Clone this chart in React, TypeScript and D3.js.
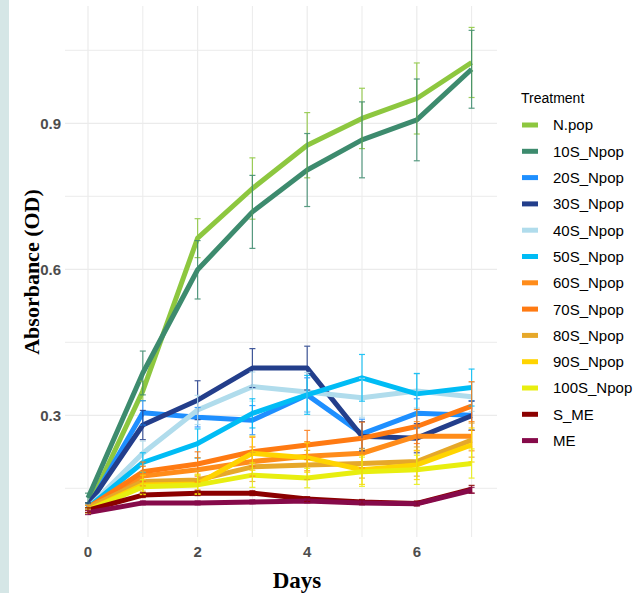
import { useEffect, useRef } from 'react';
import * as d3 from 'd3';

const days = [0, 1, 2, 3, 4, 5, 6, 7];
const xTicks = [0, 2, 4, 6];
const yTicks = [0.3, 0.6, 0.9];
const yGrid = [0.15, 0.3, 0.45, 0.6, 0.75, 0.9, 1.05];

const treatments = ['N.pop', '10S_Npop', '20S_Npop', '30S_Npop', '40S_Npop', '50S_Npop', '60S_Npop', '70S_Npop', '80S_Npop', '90S_Npop', '100S_Npop', 'S_ME', 'ME'];
const colors = ['#8dc73f', '#3d8b6e', '#1e8fff', '#233e8b', '#b0dcec', '#00bcf5', '#ff8c1a', '#ff7a12', '#e6a82a', '#ffd400', '#e8ee10', '#8b0000', '#860a4a'];

const npop = [0.11, 0.35, 0.664, 0.766, 0.855, 0.91, 0.951, 1.025];
const s10 = [0.13, 0.387, 0.599, 0.718, 0.804, 0.866, 0.907, 1.011];
const s20 = [0.11, 0.305, 0.296, 0.29, 0.342, 0.262, 0.304, 0.3];
const s30 = [0.115, 0.28, 0.331, 0.397, 0.397, 0.257, 0.253, 0.299];
const s40 = [0.11, 0.222, 0.311, 0.359, 0.348, 0.336, 0.35, 0.338];
const s50 = [0.11, 0.203, 0.242, 0.304, 0.342, 0.377, 0.344, 0.357];
const s60 = [0.11, 0.175, 0.188, 0.205, 0.216, 0.222, 0.257, 0.257];
const s70 = [0.11, 0.184, 0.2, 0.225, 0.239, 0.253, 0.277, 0.319];
const s80 = [0.11, 0.164, 0.167, 0.194, 0.198, 0.201, 0.205, 0.249];
const s90 = [0.105, 0.157, 0.159, 0.222, 0.213, 0.188, 0.198, 0.239];
const s100 = [0.105, 0.153, 0.157, 0.177, 0.171, 0.184, 0.188, 0.201];
const sme = [0.105, 0.136, 0.14, 0.14, 0.128, 0.122, 0.119, 0.148];
const me = [0.1, 0.12, 0.12, 0.122, 0.124, 0.12, 0.118, 0.146];

const seNpop = [0.01, 0.02, 0.04, 0.063, 0.067, 0.062, 0.073, 0.072];
const se10 = [0.01, 0.045, 0.06, 0.075, 0.075, 0.078, 0.084, 0.08];
const se20 = [0.005, 0.025, 0.02, 0.03, 0.035, 0.03, 0.03, 0.03];
const se30 = [0.005, 0.03, 0.04, 0.04, 0.045, 0.03, 0.03, 0.03];
const se40 = [0.005, 0.025, 0.03, 0.03, 0.04, 0.04, 0.035, 0.03];
const se50 = [0.005, 0.02, 0.03, 0.03, 0.04, 0.048, 0.042, 0.038];
const se60 = [0.005, 0.02, 0.025, 0.03, 0.03, 0.03, 0.03, 0.03];
const se70 = [0.005, 0.02, 0.025, 0.03, 0.03, 0.033, 0.035, 0.05];
const se80 = [0.005, 0.02, 0.02, 0.03, 0.03, 0.03, 0.03, 0.035];
const se90 = [0.005, 0.02, 0.02, 0.035, 0.03, 0.03, 0.03, 0.035];
const se100 = [0.005, 0.015, 0.02, 0.025, 0.02, 0.03, 0.03, 0.03];
const seSme = [0.005, 0.005, 0.005, 0.005, 0.005, 0.005, 0.005, 0.008];
const seMe = [0.004, 0.004, 0.004, 0.004, 0.004, 0.004, 0.004, 0.006];

const values = [npop, s10, s20, s30, s40, s50, s60, s70, s80, s90, s100, sme, me];
const errors = [seNpop, se10, se20, se30, se40, se50, se60, se70, se80, se90, se100, seSme, seMe];

const App = () => {
  const svgRef = useRef<SVGSVGElement>(null);

  useEffect(() => {
    if (!svgRef.current) return;
    const svg = d3.select(svgRef.current);
    svg.selectAll('*').remove();

    const panel = { left: 65, right: 497, top: 6, bottom: 537 };

    const x = d3.scaleLinear().domain([0, 7]).range([88, 471.6]);
    const y = d3.scaleLinear().domain([0, 1.05]).range([561.3, 50.3]);

    // left strip
    svg.append('rect').attr('x', 0).attr('y', 0).attr('width', 9).attr('height', 593).attr('fill', '#d5e6e6');

    const grid = svg.append('g');
    grid.selectAll('line.h')
      .data(yGrid)
      .enter()
      .append('line')
      .attr('x1', panel.left)
      .attr('x2', panel.right)
      .attr('y1', d => y(d))
      .attr('y2', d => y(d))
      .attr('stroke', '#ebebeb')
      .attr('stroke-width', d => (yTicks.includes(d) ? 1.2 : 1));
    grid.selectAll('line.v')
      .data(days)
      .enter()
      .append('line')
      .attr('x1', d => x(d))
      .attr('x2', d => x(d))
      .attr('y1', panel.top)
      .attr('y2', panel.bottom)
      .attr('stroke', '#ebebeb')
      .attr('stroke-width', d => (xTicks.includes(d) ? 1.2 : 1));

    const line = d3.line<number>()
      .x((_, i) => x(days[i]))
      .y(d => y(d));

    values.forEach((vals, k) => {
      svg.append('path')
        .datum(vals)
        .attr('fill', 'none')
        .attr('stroke', colors[k])
        .attr('stroke-width', 5)
        .attr('stroke-linejoin', 'round')
        .attr('d', line);
    });

    values.forEach((vals, k) => {
      const g = svg.append('g').attr('stroke', colors[k]).attr('stroke-width', 1.2).attr('opacity', 0.85);
      vals.forEach((v, i) => {
        const e = errors[k][i];
        const cx = x(days[i]);
        g.append('line').attr('x1', cx).attr('x2', cx).attr('y1', y(v - e)).attr('y2', y(v + e));
        g.append('line').attr('x1', cx - 3).attr('x2', cx + 3).attr('y1', y(v - e)).attr('y2', y(v - e));
        g.append('line').attr('x1', cx - 3).attr('x2', cx + 3).attr('y1', y(v + e)).attr('y2', y(v + e));
      });
    });

    // axis labels
    svg.append('g')
      .selectAll('text')
      .data(yTicks)
      .enter()
      .append('text')
      .attr('x', 61)
      .attr('y', d => y(d))
      .attr('dy', '0.36em')
      .attr('text-anchor', 'end')
      .style('font-family', '"Liberation Sans", Arial, sans-serif')
      .style('font-weight', 'bold')
      .style('font-size', '15px')
      .style('fill', '#4d4d4d')
      .text(d => d.toFixed(1));

    svg.append('g')
      .selectAll('text')
      .data(xTicks)
      .enter()
      .append('text')
      .attr('x', d => x(d))
      .attr('y', 557)
      .attr('text-anchor', 'middle')
      .style('font-family', '"Liberation Sans", Arial, sans-serif')
      .style('font-weight', 'bold')
      .style('font-size', '15px')
      .style('fill', '#4d4d4d')
      .text(d => d);

    svg.append('text')
      .attr('x', 297)
      .attr('y', 588)
      .attr('text-anchor', 'middle')
      .style('font-family', '"Liberation Serif", "Times New Roman", serif')
      .style('font-weight', 'bold')
      .style('font-size', '23px')
      .style('fill', '#000')
      .text('Days');

    svg.append('text')
      .attr('transform', 'translate(39,272) rotate(-90)')
      .attr('text-anchor', 'middle')
      .style('font-family', '"Liberation Serif", "Times New Roman", serif')
      .style('font-weight', 'bold')
      .style('font-size', '22px')
      .style('fill', '#000')
      .text('Absorbance (OD)');

    // legend
    const legend = svg.append('g').attr('transform', 'translate(521,0)');
    legend.append('text')
      .attr('x', 0)
      .attr('y', 103)
      .style('font-family', '"Liberation Sans", Arial, sans-serif')
      .style('font-size', '14px')
      .style('fill', '#000')
      .text('Treatment');

    const rows = legend.selectAll('g.row')
      .data(treatments)
      .enter()
      .append('g')
      .attr('transform', (_, i) => `translate(0,${125 + i * 26.3})`);
    rows.append('line')
      .attr('x1', 1)
      .attr('x2', 17)
      .attr('y1', 0)
      .attr('y2', 0)
      .attr('stroke', (_, i) => colors[i])
      .attr('stroke-width', 5);
    rows.append('text')
      .attr('x', 32)
      .attr('y', 0)
      .attr('dy', '0.36em')
      .style('font-family', '"Liberation Sans", Arial, sans-serif')
      .style('font-size', '15px')
      .style('fill', '#000')
      .text(d => d);
  }, []);

  return (
    <svg
      ref={svgRef}
      width={640}
      height={593}
      style={{ position: 'absolute', left: 0, top: 0, background: '#fff' }}
    ></svg>
  );
};

export default App;
